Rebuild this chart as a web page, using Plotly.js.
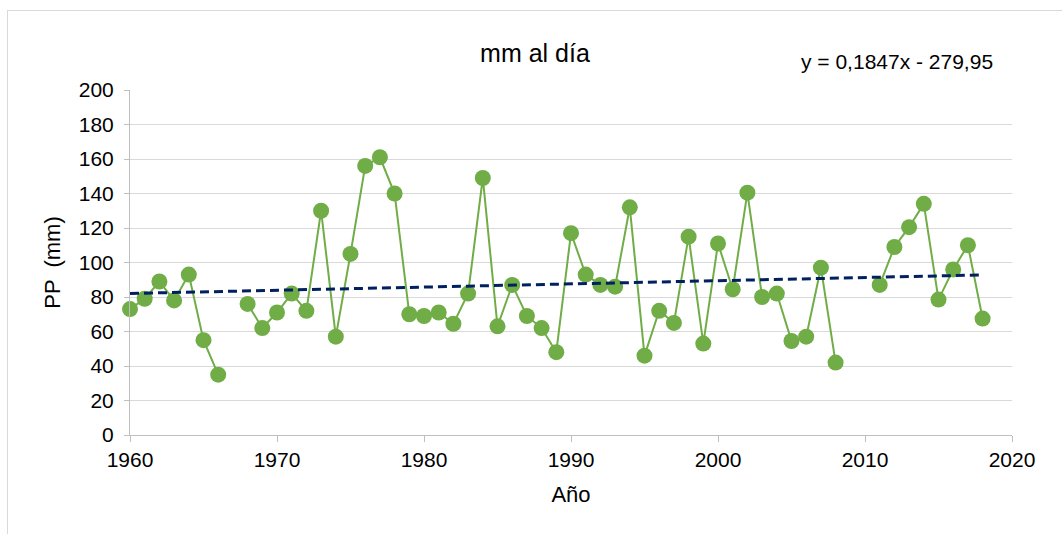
<!DOCTYPE html>
<html>
<head>
<meta charset="utf-8">
<script src="https://cdn.plot.ly/plotly-3.0.1.min.js"></script>
<style>
  html, body { margin: 0; padding: 0; background: #fff; overflow: hidden; }
  #frame { position: absolute; left: 7px; top: 10px; width: 1200px; height: 700px;
           border: 1px solid #d9d9d9; box-sizing: border-box; }
  #chart { position: absolute; left: 0; top: 0; width: 1062px; height: 534px; }
</style>
</head>
<body>
<div id="frame"></div>
<div id="chart"></div>
<script>
// Años y precipitación máxima diaria (mm); null = sin dato
const years = [
  1960, 1961, 1962, 1963, 1964, 1965, 1966, 1967, 1968, 1969,
  1970, 1971, 1972, 1973, 1974, 1975, 1976, 1977, 1978, 1979,
  1980, 1981, 1982, 1983, 1984, 1985, 1986, 1987, 1988, 1989,
  1990, 1991, 1992, 1993, 1994, 1995, 1996, 1997, 1998, 1999,
  2000, 2001, 2002, 2003, 2004, 2005, 2006, 2007, 2008, 2009,
  2010, 2011, 2012, 2013, 2014, 2015, 2016, 2017, 2018
];
const pp = [
  73, 79, 89, 78, 93, 55, 35, null, 76, 62,
  71, 82, 72, 130, 57, 105, 156, 161, 140, 70,
  69, 71, 64.5, 82, 149, 63, 87, 69, 62, 48,
  117, 93, 87, 86, 132, 46, 72, 65, 115, 53,
  111, 84.5, 140.5, 80, 82, 54.5, 57, 97, 42, null,
  null, 87, 109, 120.5, 134, 78.5, 96, 110, 67.5
];

// Línea de tendencia (extremos según y = 0,1847x - 279,95)
const trendYears = [1960, 2018];
const trendVals = [82.06, 92.77];

const xTicks = [1960, 1970, 1980, 1990, 2000, 2010, 2020];
const yTicks = [0, 20, 40, 60, 80, 100, 120, 140, 160, 180, 200];

const FONT = 'Liberation Sans, Arial, sans-serif';
const config = { responsive: false, displayModeBar: false, staticPlot: true };

const traces = [
  {
    x: years, y: pp,
    type: 'scatter', mode: 'lines+markers',
    connectgaps: false, cliponaxis: false,
    line: { color: '#70ad47', width: 2 },
    marker: { color: '#70ad47', size: 16 },
    name: 'PP'
  },
  {
    x: trendYears, y: trendVals,
    type: 'scatter', mode: 'lines',
    line: { color: '#002060', width: 3, dash: '9px,5px' },
    name: 'Tendencia'
  }
];

const layout = {
  width: 1062, height: 534,
  margin: { l: 130, r: 50, t: 90, b: 99 },
  paper_bgcolor: 'rgba(0,0,0,0)', plot_bgcolor: '#fff',
  showlegend: false,
  font: { family: FONT, color: '#000', size: 21 },
  title: {
    text: 'mm al día',
    font: { family: FONT, size: 25, color: '#000' },
    x: 535 / 1062, xref: 'container', xanchor: 'center',
    y: 1 - 53 / 534, yref: 'container', yanchor: 'middle'
  },
  xaxis: {
    range: [1960, 2020],
    tickvals: xTicks,
    ticktext: xTicks.map(String),
    showgrid: false, zeroline: false,
    showline: true, linecolor: '#bfbfbf', linewidth: 1,
    ticks: 'outside', ticklen: 6, tickcolor: '#bfbfbf',
    tickfont: { family: FONT, size: 21, color: '#000' },
    title: { text: 'Año', font: { family: FONT, size: 22, color: '#000' }, standoff: 16 }
  },
  yaxis: {
    range: [0, 200],
    tickvals: yTicks,
    ticktext: yTicks.map(String),
    showgrid: true, gridcolor: '#d9d9d9', gridwidth: 1,
    zeroline: false,
    showline: true, linecolor: '#bfbfbf', linewidth: 1,
    ticks: 'outside', ticklen: 5, tickcolor: '#bfbfbf',
    ticklabelstandoff: 6,
    tickfont: { family: FONT, size: 21, color: '#000' },
    title: { text: 'PP  (mm)', font: { family: FONT, size: 22, color: '#000' }, standoff: 12 }
  },
  annotations: [
    {
      text: 'y = 0,1847x - 279,95',
      xref: 'paper', yref: 'paper',
      x: (897 - 130) / 882, y: (435 - 62) / 345,
      xanchor: 'center', yanchor: 'middle',
      showarrow: false,
      font: { family: FONT, size: 21, color: '#000' }
    }
  ]
};

Plotly.newPlot('chart', traces, layout, config);
</script>
</body>
</html>
